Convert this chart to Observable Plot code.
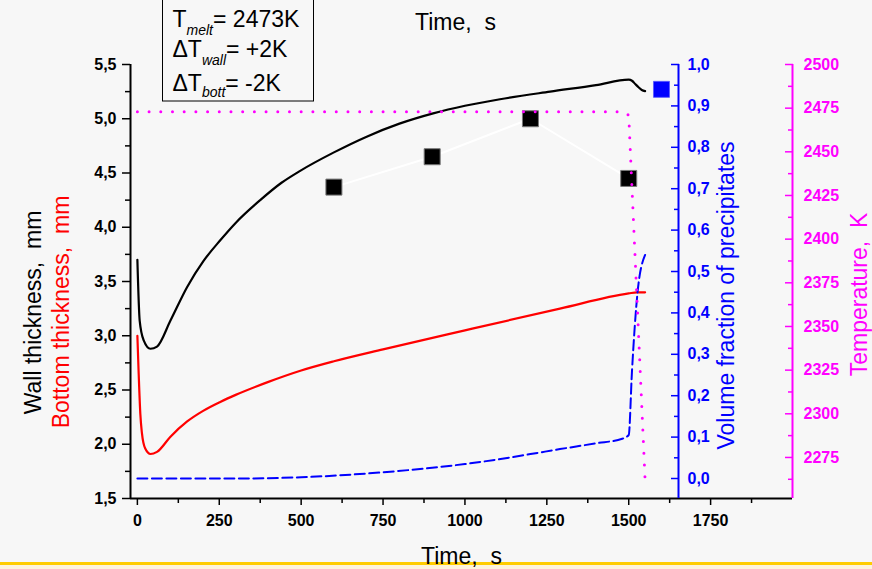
<!DOCTYPE html>
<html>
<head>
<meta charset="utf-8">
<script src="https://cdn.jsdelivr.net/npm/d3@7"></script>
<script src="https://cdn.jsdelivr.net/npm/@observablehq/plot@0.6"></script>
<style>
  html, body { margin: 0; padding: 0; background: #f7f7f7; }
  #wrap { position: relative; width: 872px; height: 569px; overflow: hidden; font-family: "Liberation Sans", Arial, sans-serif; }
  #wrap svg { position: absolute; left: 0; top: 0; }
  .band { position: absolute; left: 0; width: 872px; }
</style>
</head>
<body>
<div id="wrap">
  <div class="band" style="top:562px;height:3px;background:#ffcc00"></div>
  <div class="band" style="top:565px;height:4px;background:#fdf3dc"></div>
</div>
<script>
// ---------------- DATA ----------------
// Wall thickness (black, left axis, mm)
const wallTime      = [0, 7, 19, 40, 60, 101, 152, 202, 253, 300, 375, 440, 497, 600, 700, 800, 903, 1000, 1107, 1260, 1400, 1500, 1510, 1520, 1530, 1540, 1550];
const wallThickness = [3.70, 3.14, 2.96, 2.88, 2.90, 3.14, 3.45, 3.69, 3.88, 4.04, 4.25, 4.41, 4.52, 4.69, 4.835, 4.955, 5.05, 5.12, 5.18, 5.25, 5.31, 5.36, 5.35, 5.32, 5.29, 5.265, 5.255];

// Bottom thickness (red, left axis, mm)
const bottomTime      = [0, 4, 9, 14, 24, 40, 60, 101, 152, 202, 253, 300, 400, 500, 600, 750, 1000, 1290, 1500, 1525, 1550];
const bottomThickness = [3.00, 2.65, 2.28, 2.10, 1.96, 1.91, 1.93, 2.07, 2.21, 2.31, 2.39, 2.455, 2.575, 2.68, 2.765, 2.875, 3.05, 3.25, 3.39, 3.40, 3.40];

// Volume fraction of precipitates (blue dashed, blue axis)
const fracTime  = [0, 300, 500, 700, 900, 1000, 1100, 1200, 1290, 1400, 1480, 1500, 1510, 1527, 1550];
const fracValue = [0, 0, 0.003, 0.012, 0.026, 0.035, 0.046, 0.059, 0.071, 0.085, 0.096, 0.105, 0.26, 0.45, 0.54];

// Temperature (magenta dotted, temperature axis, K)
const tempTime  = [0, 1480, 1500, 1550];
const tempValue = [2473, 2473, 2471, 2262];

// Experimental wall thickness (black squares)
const expTime = [600, 900, 1200, 1500];
const expWall = [4.37, 4.65, 5.00, 4.45];

// Experimental volume fraction (blue square)
const expFracTime  = [1600];
const expFracValue = [0.94];

// Ticks
const timeTicks  = [0, 250, 500, 750, 1000, 1250, 1500, 1750];
const timeMinor  = [125, 375, 625, 875, 1125, 1375, 1625, 1875];
const wallTicks  = [1.5, 2.0, 2.5, 3.0, 3.5, 4.0, 4.5, 5.0, 5.5];
const wallMinor  = [1.75, 2.25, 2.75, 3.25, 3.75, 4.25, 4.75, 5.25];
const fracTicks  = [0, 0.1, 0.2, 0.3, 0.4, 0.5, 0.6, 0.7, 0.8, 0.9, 1.0];
const fracMinor  = [0.05, 0.15, 0.25, 0.35, 0.45, 0.55, 0.65, 0.75, 0.85, 0.95];
const tempTicks  = [2275, 2300, 2325, 2350, 2375, 2400, 2425, 2450, 2475, 2500];
const tempMinor  = [2262.5, 2287.5, 2312.5, 2337.5, 2362.5, 2387.5, 2412.5, 2437.5, 2462.5, 2487.5];

// Annotation text
const legendLines = [
  {main: "T", sub: "melt", rest: "= 2473K"},
  {main: "\u0394T", sub: "wall", rest: "= +2K"},
  {main: "\u0394T", sub: "bott", rest: "= -2K"}
];

// ---------------- LAYOUT ----------------
const W = 872, H = 569;
const FONT = "'Liberation Sans', Arial, sans-serif";
const BLUE = "#0000ff", MAG = "#ff00ff", RED = "#ff0000";
const X_DOMAIN = [-21, 2000];
const MT = 64, MB = 71, ML = 130, MR = 80;
const kx = (W - MR - ML) / (X_DOMAIN[1] - X_DOMAIN[0]);
const BLUE_AXIS_PX = 678;
const xBlueMax = X_DOMAIN[0] + (BLUE_AXIS_PX - ML) / kx;

const comma1 = d => d.toFixed(1).replace(".", ",");
const zipT = (t, v) => t.map((d, i) => ({t: d, v: v[i]}));

const wallData = zipT(wallTime, wallThickness);
const bottomData = zipT(bottomTime, bottomThickness);
const fracData = zipT(fracTime, fracValue);
const tempData = zipT(tempTime, tempValue);
const expData = zipT(expTime, expWall);
const expFracData = zipT(expFracTime, expFracValue);

const baseStyle = {background: "transparent", fontFamily: FONT, overflow: "visible"};
const tickFont = {fontSize: 16, fontWeight: "bold"};
const titleFont = {fontSize: 23, textAnchor: "middle", lineAnchor: "middle"};
const SQ_R = 16 / Math.sqrt(Math.PI);

// Plot A: left axis (wall / bottom thickness) and time axis
const plotA = Plot.plot({
  width: W, height: H,
  marginTop: MT, marginBottom: MB, marginLeft: ML, marginRight: MR,
  x: {domain: X_DOMAIN},
  y: {domain: [1.5, 5.5]},
  style: baseStyle,
  marks: [
    Plot.ruleX([X_DOMAIN[0]], {stroke: "#000", strokeWidth: 2}),
    Plot.ruleY([1.5], {stroke: "#000", strokeWidth: 2}),
    Plot.axisY(wallTicks, {anchor: "left", tickSize: 8, tickPadding: 6, tickFormat: comma1, ...tickFont, stroke: "#000", fill: "#000", strokeWidth: 1.5, label: null}),
    Plot.axisY(wallMinor, {anchor: "left", tickSize: 5, tickFormat: () => "", stroke: "#000", strokeWidth: 1.5, label: null}),
    Plot.axisX(timeTicks, {anchor: "bottom", tickSize: 7, tickPadding: 9, tickFormat: d => String(d), ...tickFont, stroke: "#000", fill: "#000", strokeWidth: 1.5, label: null}),
    Plot.axisX(timeMinor, {anchor: "bottom", tickSize: 5, tickFormat: () => "", stroke: "#000", strokeWidth: 1.5, label: null}),
    Plot.line(expData, {x: "t", y: "v", stroke: "#ffffff", strokeWidth: 2}),
    Plot.line(wallData, {x: "t", y: "v", stroke: "#000", strokeWidth: 2.2, curve: "monotone-x"}),
    Plot.line(bottomData, {x: "t", y: "v", stroke: RED, strokeWidth: 2.2, curve: "monotone-x"}),
    Plot.dot(expData, {x: "t", y: "v", symbol: "square", r: SQ_R, fill: "#000", stroke: "#777", strokeWidth: 1}),
    Plot.text(["Time,\u00a0\u00a0s"], {text: d => d, frameAnchor: "top", dx: -6, dy: -42, ...titleFont, fill: "#000"}),
    Plot.text(["Time,\u00a0\u00a0s"], {text: d => d, frameAnchor: "bottom", dy: 58, ...titleFont, fill: "#000"}),
    Plot.text(["Wall thickness,\u00a0\u00a0mm"], {text: d => d, frameAnchor: "left", rotate: -90, dx: -96.5, dy: 31, ...titleFont, fill: "#000"}),
    Plot.text(["Bottom thickness,\u00a0\u00a0mm"], {text: d => d, frameAnchor: "left", rotate: -90, dx: -68.5, dy: 30.5, ...titleFont, fill: RED})
  ]
});

// Plot B: volume fraction (blue axis)
const plotB = Plot.plot({
  width: W, height: H,
  marginTop: MT, marginBottom: MB, marginLeft: ML, marginRight: W - BLUE_AXIS_PX,
  x: {domain: [X_DOMAIN[0], xBlueMax], axis: null},
  y: {domain: [-0.0483, 1.0]},
  style: baseStyle,
  marks: [
    Plot.ruleX([xBlueMax], {stroke: BLUE, strokeWidth: 2}),
    Plot.axisY(fracTicks, {anchor: "right", tickSize: 8, dx: -8, tickPadding: 9, tickFormat: comma1, ...tickFont, stroke: BLUE, fill: BLUE, strokeWidth: 1.5, label: null}),
    Plot.axisY(fracMinor, {anchor: "right", tickSize: 5, dx: -5, tickFormat: () => "", stroke: BLUE, strokeWidth: 1.5, label: null}),
    Plot.line(fracData, {x: "t", y: "v", stroke: BLUE, strokeWidth: 2, strokeDasharray: "10,4.5", curve: "monotone-x"}),
    Plot.dot(expFracData, {x: "t", y: "v", symbol: "square", r: SQ_R, fill: BLUE, stroke: "#5555ff", strokeWidth: 0.8}),
    Plot.text(["Volume fraction of precipitates"], {text: d => d, frameAnchor: "right", rotate: -90, dx: 48.5, dy: 14, ...titleFont, fill: BLUE})
  ]
});

// Plot C: temperature (magenta axis)
const plotC = Plot.plot({
  width: W, height: H,
  marginTop: MT, marginBottom: MB, marginLeft: ML, marginRight: MR,
  x: {domain: X_DOMAIN, axis: null},
  y: {domain: [2251.5, 2500]},
  style: baseStyle,
  marks: [
    Plot.ruleX([X_DOMAIN[1]], {stroke: MAG, strokeWidth: 2}),
    Plot.axisY(tempTicks, {anchor: "right", tickSize: 8, dx: -8, tickPadding: 11, tickFormat: d => String(d), ...tickFont, stroke: MAG, fill: MAG, strokeWidth: 1.5, label: null}),
    Plot.axisY(tempMinor, {anchor: "right", tickSize: 5, dx: -5, tickFormat: () => "", stroke: MAG, strokeWidth: 1.5, label: null}),
    Plot.line(tempData, {x: "t", y: "v", stroke: MAG, strokeWidth: 3, strokeDasharray: "0,11.7", strokeLinecap: "round"}),
    Plot.text(["Temperature,\u00a0\u00a0K"], {text: d => d, frameAnchor: "right", rotate: -90, dx: 67, dy: 13, ...titleFont, fill: MAG})
  ]
});

const wrap = document.getElementById("wrap");
wrap.appendChild(plotA);
wrap.appendChild(plotB);
wrap.appendChild(plotC);

// Parameter box (top-left)
const legend = d3.select(wrap).append("svg")
  .attr("width", W).attr("height", 110)
  .style("font-family", FONT);
legend.append("rect")
  .attr("x", 162.5).attr("y", -2).attr("width", 151).attr("height", 103)
  .attr("fill", "none").attr("stroke", "#000").attr("stroke-width", 1);
const baselines = [27, 57, 90.5];
const subShift = [8, 8, 6.5];
legendLines.forEach((l, i) => {
  const t = legend.append("text").attr("x", 172.5).attr("y", baselines[i]).attr("font-size", 23).attr("fill", "#000");
  t.append("tspan").text(l.main);
  t.append("tspan").attr("dy", subShift[i]).attr("font-size", 14).attr("font-style", "italic").text(l.sub);
  t.append("tspan").attr("dy", -subShift[i]).attr("font-size", 23).text(l.rest);
});
</script>
</body>
</html>
